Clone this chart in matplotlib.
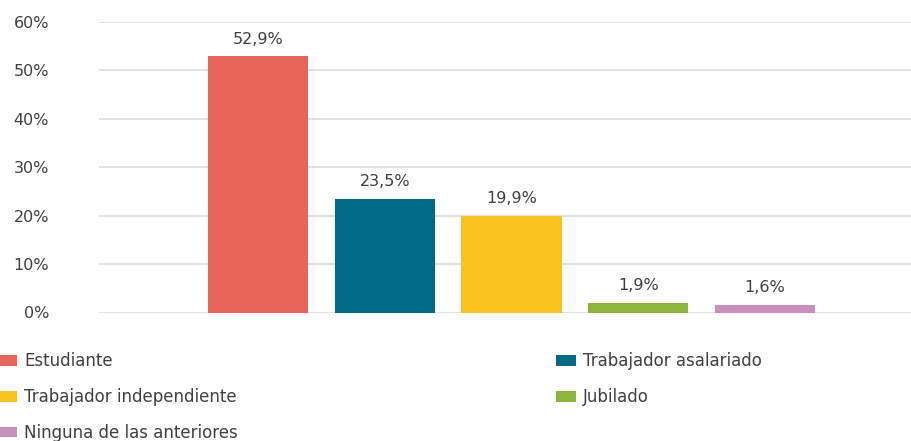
import matplotlib
matplotlib.use("Agg")
import matplotlib.pyplot as plt
from matplotlib.patches import Patch

categories = ["Estudiante", "Trabajador asalariado", "Trabajador independiente", "Jubilado", "Ninguna de las anteriores"]
values = [52.9, 23.5, 19.9, 1.9, 1.6]
labels = ["52,9%", "23,5%", "19,9%", "1,9%", "1,6%"]
colors = ["#E8655A", "#006A87", "#F8C31C", "#8DB63C", "#C98FBF"]
yticks = [0, 10, 20, 30, 40, 50, 60]
ytick_labels = ["0%", "10%", "20%", "30%", "40%", "50%", "60%"]

plt.rcParams['font.family'] = ['DejaVu Sans']
txt = "#404040"

fig = plt.figure(figsize=(9.11, 4.41), dpi=100)
ax = fig.add_axes([99/911, 1-312.5/441, 1-99/911, (312.5-22)/441])

x = list(range(len(values)))
ax.bar(x, values, width=0.79, color=colors, zorder=3)
for xi, v, lab in zip(x, values, labels):
    ax.annotate(lab, (xi, v), xytext=(0, 12.5), textcoords="offset points",
                ha="center", va="center", fontsize=11.5, color=txt)

ax.set_xlim(-1.254, 5.152)
ax.set_ylim(0, 60)
ax.set_yticks(yticks)
ax.set_yticklabels(ytick_labels, fontsize=11.5, color=txt)
ax.set_xticks([])
ax.tick_params(axis='y', length=0, pad=36)
ax.grid(axis='y', color="#DCDCDC", linewidth=1.2, zorder=0)
for s in ax.spines.values():
    s.set_visible(False)

handles = [Patch(facecolor=c, edgecolor='none') for c in colors]
col1 = [0, 2, 4]
col2 = [1, 3]
leg_kw = dict(frameon=False, fontsize=12, handlelength=1.2, handleheight=0.6,
              handletextpad=0.42, labelspacing=1.06, borderpad=0, borderaxespad=0,
              labelcolor=txt)
fig.legend([handles[i] for i in col1], [categories[i] for i in col1],
           loc='upper left', bbox_to_anchor=(-3/911, 1-352.5/441), **leg_kw)
fig.legend([handles[i] for i in col2], [categories[i] for i in col2],
           loc='upper left', bbox_to_anchor=(556/911, 1-352.5/441), **leg_kw)

fig.savefig("out.png", dpi=100)
